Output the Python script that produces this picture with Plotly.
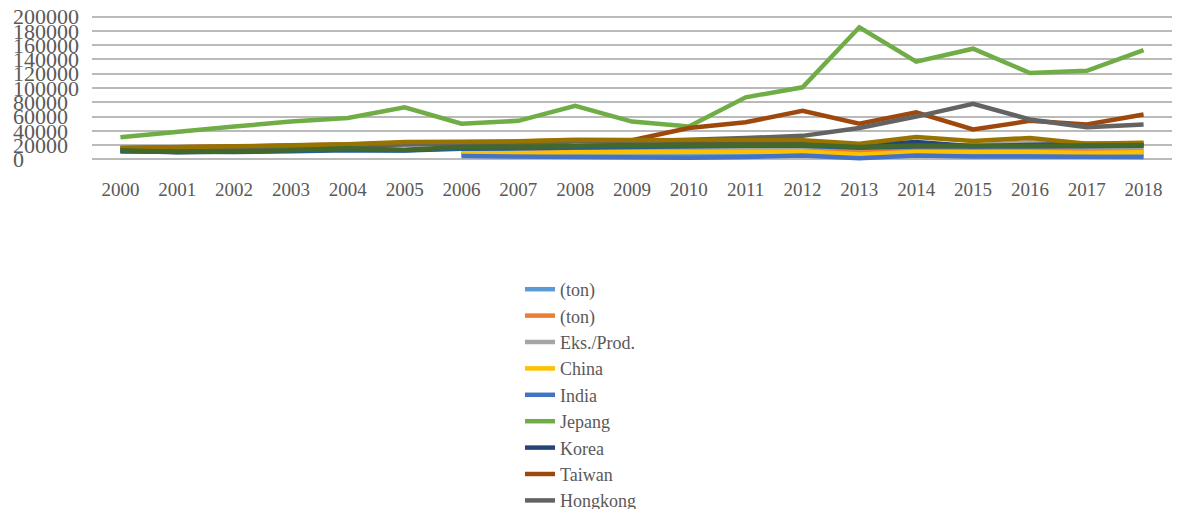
import plotly.graph_objects as go

# Years on the category axis
years = [str(y) for y in range(2000, 2019)]

# Series values (ton); series that only start in 2006 are padded with None
ton_a = [None] * 6 + [7000, 6500, 6500, 6500, 5500, 6500, 8000, 4500, 8500, 7000, 7000, 5500, 6500]
ton_b = [None] * 6 + [11000, 11500, 12000, 12000, 12500, 13500, 14500, 11000, 13000, 12500, 13000, 12000, 12500]
eks_prod = [None] * 6 + [15000, 15500, 17000, 17000, 17500, 17500, 18000, 15500, 19000, 19700, 24000, 17000, 17000]
china = [None] * 6 + [9400, 8500, 10000, 10000, 10000, 10500, 11000, 7000, 10500, 10000, 10500, 9000, 10000]
india = [None] * 6 + [4700, 4000, 3500, 3500, 2500, 3500, 5500, 1500, 5500, 4200, 4000, 2500, 3300]
jepang = [31000, 39000, 46000, 53000, 58000, 73000, 50000, 54000, 75000, 53000, 46000,
          87000, 101000, 185000, 137000, 155000, 121000, 124000, 153000]
korea = [12000, 10000, 11000, 12000, 14000, 13000, 16000, 16500, 18000, 20700, 23000,
         23000, 23000, 19700, 24400, 18300, 20700, 22000, 22000]
taiwan = [16000, 16500, 18000, 19500, 21000, 24000, 24000, 25000, 27000, 27000, 44000,
          52000, 68000, 50000, 66000, 42000, 54000, 49000, 63000]
hongkong = [15000, 15500, 17000, 18500, 20000, 22000, 22000, 23000, 25000, 25000, 27000,
            30000, 33000, 44000, 60000, 78000, 56000, 45000, 49000]
malaysia = [16000, 16500, 18300, 19700, 21100, 24400, 24400, 25300, 27700, 26800, 26800,
            27000, 27000, 22000, 31400, 25800, 30000, 22000, 23500]
singapura = [11000, 10000, 10500, 11500, 13000, 12500, 15000, 15500, 16500, 18000, 19000,
             19000, 19000, 16500, 18000, 17500, 18000, 18500, 19000]
lainnya = [13000, 10500, 11500, 12700, 15500, 13500, 17300, 17300, 18800, 19700, 20000,
           20000, 20500, 17500, 19500, 19000, 19500, 19500, 20000]

# Y-axis ticks
y_ticks = [0, 20000, 40000, 60000, 80000, 100000, 120000, 140000, 160000, 180000, 200000]

series = [
    ("(ton)", ton_a, "#5B9BD5"),
    ("(ton)", ton_b, "#ED7D31"),
    ("Eks./Prod.", eks_prod, "#A5A5A5"),
    ("China", china, "#FFC000"),
    ("India", india, "#4472C4"),
    ("Jepang", jepang, "#70AD47"),
    ("Korea", korea, "#264478"),
    ("Taiwan", taiwan, "#9E480E"),
    ("Hongkong", hongkong, "#636363"),
    ("Malaysia", malaysia, "#997300"),
    ("Singapura", singapura, "#255E91"),
    ("Lainnya", lainnya, "#43682B"),
]

fig = go.Figure()
for name, vals, color in series:
    fig.add_trace(go.Scatter(
        x=years, y=vals, name=name, mode="lines",
        line=dict(color=color, width=4.5),
        connectgaps=False,
    ))

# Pad labels with no-break spaces so they line up on the left
NBSP = "\u00a0"
def pad_label(v):
    s = str(v)
    return s + NBSP * (2 * (6 - len(s)))

serif = "Liberation Serif, Times New Roman, serif"
text_color = "#595959"
grid_color = "#bababa"

fig.update_layout(
    width=1179, height=509,
    margin=dict(l=92, r=7, t=13, b=346, autoexpand=False),
    plot_bgcolor="white", paper_bgcolor="white",
    font=dict(family=serif, color=text_color),
    showlegend=True,
    legend=dict(
        xref="container", yref="container",
        x=520 / 1179, y=1 - 271 / 509,
        xanchor="left", yanchor="top",
        orientation="v",
        font=dict(family=serif, size=18, color=text_color),
        bgcolor="rgba(0,0,0,0)",
        tracegroupgap=0,
        maxheight=2000,
    ),
    xaxis=dict(
        type="category",
        range=[-0.5, 18.5],
        showgrid=False, zeroline=False, showline=False, ticks="",
        tickfont=dict(family=serif, size=19, color=text_color),
        ticklabelstandoff=13,
    ),
    yaxis=dict(
        range=[-5000, 205000],
        tickmode="array", tickvals=y_ticks,
        ticktext=[pad_label(v) for v in y_ticks],
        showgrid=True, gridcolor=grid_color, gridwidth=2,
        zeroline=True, zerolinecolor=grid_color, zerolinewidth=2,
        showline=False, ticks="",
        tickfont=dict(family=serif, size=22, color=text_color),
        ticklabelstandoff=12,
    ),
)

fig.write_html("out.html")
